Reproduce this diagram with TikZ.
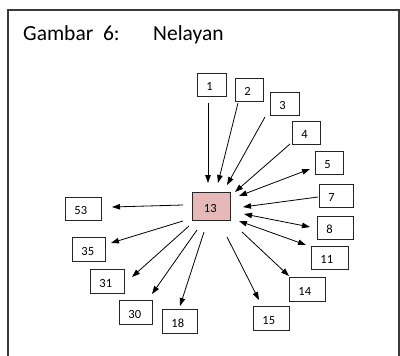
\documentclass[tikz,border=0pt]{standalone}
\usepackage{fontspec}
\setmainfont{Carlito}
\usetikzlibrary{arrows.meta}
\definecolor{framegray}{HTML}{3A3A3A}
\definecolor{pinkfill}{HTML}{E6B8B7}
\tikzset{
  numbox/.style={draw=black!85, line width=0.9pt, anchor=north west, inner xsep=9pt,
    align=left, text height=11.5pt, text depth=0pt, font=\fontsize{12.5}{13}\selectfont},
  arr/.style={line width=0.8pt, -{Triangle[length=8pt,width=5.5pt]}},
  darr/.style={line width=0.8pt, {Triangle[length=8pt,width=5.5pt]}-{Triangle[length=8pt,width=5.5pt]}},
}
\begin{document}
\begin{tikzpicture}[x=1pt,y=-1pt]
\useasboundingbox (0,0) rectangle (400,356);
% frame
\draw[framegray, line width=2pt] (8,356) -- (8,10) -- (399,10) -- (399,356);
% title
\node[anchor=base west, inner sep=0pt, font=\fontsize{21.5}{24}\selectfont] (title) at (23,40)
  {\makebox[130pt][l]{Gambar\ \ 6:}Nelayan};
% boxes
\node[numbox, minimum width=29pt, minimum height=23pt, text width=11pt] (b1) at (197,73) {1};
\node[numbox, minimum width=28pt, minimum height=23pt, text width=10pt] (b2) at (235,78) {2};
\node[numbox, minimum width=29pt, minimum height=23pt, text width=11pt] (b3) at (270,92) {3};
\node[numbox, minimum width=28pt, minimum height=23pt, text width=10pt] (b4) at (292,121) {4};
\node[numbox, minimum width=28pt, minimum height=23pt, text width=10pt] (b5) at (315,151) {5};
\node[numbox, minimum width=34pt, minimum height=23pt, text width=16pt] (b7) at (319,184) {7};
\node[numbox, minimum width=36pt, minimum height=23pt, text width=18pt] (b8) at (317,216) {8};
\node[numbox, minimum width=37pt, minimum height=23pt, text width=19pt] (b11) at (311,246) {11};
\node[numbox, minimum width=36pt, minimum height=24pt, text width=18pt] (b14) at (289,277) {14};
\node[numbox, minimum width=36pt, minimum height=24pt, text width=18pt] (b15) at (253,306) {15};
\node[numbox, minimum width=35pt, minimum height=24pt, text width=17pt] (b18) at (162,309) {18};
\node[numbox, minimum width=33pt, minimum height=24pt, text width=15pt] (b30) at (119,300) {30};
\node[numbox, minimum width=34pt, minimum height=24pt, text width=16pt] (b31) at (90,269) {31};
\node[numbox, minimum width=33pt, minimum height=24pt, text width=15pt] (b35) at (72,237) {35};
\node[numbox, minimum width=36pt, minimum height=23pt, text width=18pt] (b53) at (65,197) {53};
\node[numbox, fill=pinkfill, inner xsep=11.5pt, minimum width=38pt, minimum height=28pt, text width=15pt, text height=12.5pt] (c) at (192,192) {13};
% incoming
\draw[arr] ([shift={(11,30)}]b1.north west) -- ([shift={(16,-9)}]c.north west);
\draw[arr] ([shift={(3,25)}]b2.north west) -- ([shift={(26,-9)}]c.north west);
\draw[arr] ([shift={(-5,25)}]b3.north west) -- ([shift={(35,-7)}]c.north west);
\draw[arr] ([shift={(-2,23)}]b4.north west) -- ([shift={(43,0)}]c.north west);
\draw[darr] ([shift={(47,4)}]c.north west) -- ([shift={(-5,18)}]b5.north west);
\draw[arr] ([shift={(-1,13)}]b7.north west) -- ([shift={(51,15)}]c.north west);
\draw[darr] ([shift={(52,22)}]c.north west) -- ([shift={(-7,11)}]b8.north west);
\draw[darr] ([shift={(47,29)}]c.north west) -- ([shift={(-5,-1)}]b11.north west);
% outgoing
\draw[arr] ([shift={(50,40)}]c.north west) -- ([shift={(0,-1)}]b14.north west);
\draw[arr] ([shift={(35,45)}]c.north west) -- ([shift={(6,-6)}]b15.north west);
\draw[arr] ([shift={(12,40)}]c.north west) -- ([shift={(18,-3)}]b18.north west);
\draw[arr] ([shift={(5,38)}]c.north west) -- ([shift={(33,-6)}]b30.north west);
\draw[arr] ([shift={(-3,34)}]c.north west) -- ([shift={(42,8)}]b31.north west);
\draw[arr] ([shift={(-9,29)}]c.north west) -- ([shift={(39,6)}]b35.north west);
\draw[arr] ([shift={(-9,13)}]c.north west) -- ([shift={(47,10)}]b53.north west);
\end{tikzpicture}
\end{document}
